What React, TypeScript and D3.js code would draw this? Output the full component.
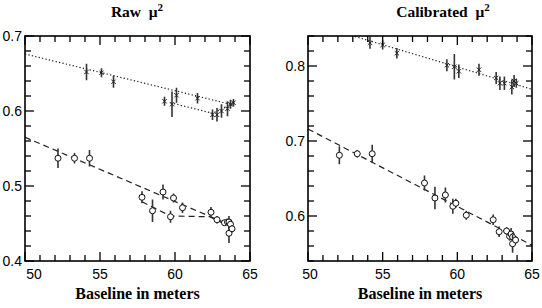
import * as d3 from "d3";

// upper series (crosses) and lower series (circles)
const rawUpperX = [54.1, 55.1, 55.9, 59.3, 59.8, 60.1, 61.5, 62.5, 62.8, 63.1, 63.5, 63.7, 63.9];
const rawUpperY = [0.652, 0.651, 0.639, 0.613, 0.609, 0.621, 0.617, 0.595, 0.595, 0.6, 0.603, 0.609, 0.611];
const rawUpperErr = [0.011, 0.006, 0.008, 0.006, 0.017, 0.01, 0.007, 0.007, 0.009, 0.009, 0.01, 0.006, 0.005];

const rawLowerX = [52.2, 53.3, 54.3, 57.8, 58.5, 59.2, 59.7, 59.9, 60.5, 62.4, 62.8, 63.3, 63.5, 63.6, 63.6, 63.7, 63.8];
const rawLowerY = [0.537, 0.537, 0.537, 0.485, 0.467, 0.492, 0.459, 0.484, 0.471, 0.465, 0.455, 0.451, 0.452, 0.452, 0.437, 0.449, 0.443];
const rawLowerErr = [0.013, 0.007, 0.011, 0.008, 0.015, 0.01, 0.008, 0.006, 0.007, 0.007, 0.005, 0.004, 0.004, 0.008, 0.013, 0.005, 0.005];

const calUpperX = [54.15, 55.0, 55.95, 59.3, 59.8, 60.1, 61.45, 62.6, 62.85, 63.15, 63.65, 63.8, 63.95];
const calUpperY = [0.831, 0.828, 0.817, 0.801, 0.799, 0.793, 0.795, 0.784, 0.777, 0.777, 0.772, 0.78, 0.777];
const calUpperErr = [0.008, 0.006, 0.007, 0.008, 0.017, 0.009, 0.008, 0.008, 0.009, 0.009, 0.01, 0.008, 0.006];

const calLowerX = [52.1, 53.3, 54.3, 57.8, 58.5, 59.2, 59.7, 59.9, 60.6, 62.4, 62.8, 63.3, 63.5, 63.6, 63.7, 63.7, 63.9];
const calLowerY = [0.681, 0.683, 0.683, 0.644, 0.624, 0.628, 0.613, 0.617, 0.601, 0.595, 0.579, 0.58, 0.573, 0.576, 0.572, 0.563, 0.568];
const calLowerErr = [0.012, 0.005, 0.012, 0.01, 0.015, 0.01, 0.01, 0.006, 0.006, 0.007, 0.007, 0.005, 0.006, 0.008, 0.006, 0.012, 0.005];

// fit lines
const rawDotAX = [50, 63.9];
const rawDotAY = [0.676, 0.608];
const rawDotBX = [59.7, 62.5, 63.9];
const rawDotBY = [0.611, 0.597, 0.61];
const rawDashAX = [50, 63.9];
const rawDashAY = [0.565, 0.446];
const rawDashBX = [57.8, 59.7, 62.3, 63.9];
const rawDashBY = [0.479, 0.46, 0.459, 0.444];
const calDotX = [50, 65];
const calDotY = [0.858, 0.769];
const calDashX = [50, 65];
const calDashY = [0.716, 0.561];

const xTicks = [50, 55, 60, 65];
const rawYTicks = [0.4, 0.5, 0.6, 0.7];
const calYTicks = [0.6, 0.7, 0.8];

const zip = (xs: number[], ys: number[], es?: number[]) =>
  xs.map((x, i) => ({ x, y: ys[i], e: es ? es[i] : 0 }));

type Line = { xs: number[]; ys: number[]; dash: string };

function Panel(props: {
  id: string;
  left: number;
  right: number;
  title: string;
  titleX: number;
  yDomain: [number, number];
  yTicks: number[];
  crosses: { x: number; y: number; e: number }[];
  circles: { x: number; y: number; e: number }[];
  lines: Line[];
  firstXLabelShift: number;
}) {
  const top = 36;
  const bottom = 261;
  const x = d3.scaleLinear().domain([50, 65]).range([props.left, props.right]);
  const y = d3.scaleLinear().domain(props.yDomain).range([bottom, top]);
  const line = d3
    .line<[number, number]>()
    .x((d) => x(d[0]))
    .y((d) => y(d[1]));

  const minorX = d3.range(50, 65.001, 1);
  const minorY = d3.range(Math.ceil(props.yDomain[0] * 50 - 1e-6), props.yDomain[1] * 50 + 1e-6, 1).map((v) => v / 50);
  const isMajorX = (v: number) => Math.abs(v / 5 - Math.round(v / 5)) < 1e-6;
  const isMajorY = (v: number) => Math.abs(v * 10 - Math.round(v * 10)) < 1e-6;

  return (
    <g>
      <defs>
        <clipPath id={props.id}>
          <rect x={props.left} y={top} width={props.right - props.left} height={bottom - top} />
        </clipPath>
      </defs>
      <text
        x={props.titleX}
        y={17}
        textAnchor="middle"
        fontFamily="Liberation Serif, serif"
        fontWeight="bold"
        fontSize={15.5}
      >
        {props.title}
        <tspan>{"\u00a0\u00a0\u03bc"}</tspan>
        <tspan fontSize={11} dy={-6}>2</tspan>
      </text>
      <g clipPath={`url(#${props.id})`}>
        {props.lines.map((l, i) => (
          <path
            key={i}
            d={line(l.xs.map((v, j) => [v, l.ys[j]]) as [number, number][]) || ""}
            fill="none"
            stroke="#222"
            strokeWidth={1.2}
            strokeDasharray={l.dash}
          />
        ))}
        {props.crosses.map((p, i) => (
          <g key={"c" + i}>
            <line x1={x(p.x)} x2={x(p.x)} y1={y(p.y - p.e)} y2={y(p.y + p.e)} stroke="#333" strokeWidth={1.6} />
            <path
              d={`M${x(p.x) - 2.2},${y(p.y) - 2.2}L${x(p.x) + 2.2},${y(p.y) + 2.2}M${x(p.x) - 2.2},${y(p.y) + 2.2}L${x(p.x) + 2.2},${y(p.y) - 2.2}`}
              stroke="#222"
              strokeWidth={1}
            />
          </g>
        ))}
        {props.circles.map((p, i) => (
          <g key={"o" + i}>
            <line x1={x(p.x)} x2={x(p.x)} y1={y(p.y - p.e)} y2={y(p.y + p.e)} stroke="#333" strokeWidth={1.6} />
            <circle cx={x(p.x)} cy={y(p.y)} r={3} fill="#fff" stroke="#111" strokeWidth={1} />
          </g>
        ))}
      </g>
      {minorX.map((v) => {
        const len = isMajorX(v) ? 9 : 6;
        return (
          <g key={"tx" + v}>
            <line x1={x(v)} x2={x(v)} y1={bottom} y2={bottom - len} stroke="#000" strokeWidth={1.3} />
            <line x1={x(v)} x2={x(v)} y1={top} y2={top + len} stroke="#000" strokeWidth={1.3} />
          </g>
        );
      })}
      {minorY.map((v) => {
        const len = isMajorY(v) ? 9 : 6;
        return (
          <g key={"ty" + v}>
            <line x1={props.left} x2={props.left + len} y1={y(v)} y2={y(v)} stroke="#000" strokeWidth={1.3} />
            <line x1={props.right} x2={props.right - len} y1={y(v)} y2={y(v)} stroke="#000" strokeWidth={1.3} />
          </g>
        );
      })}
      <rect
        x={props.left}
        y={top}
        width={props.right - props.left}
        height={bottom - top}
        fill="none"
        stroke="#000"
        strokeWidth={1.6}
      />
      {xTicks.map((v, i) => (
        <text
          key={"xl" + v}
          x={x(v) + (i === 0 ? props.firstXLabelShift : 0)}
          y={279}
          textAnchor="middle"
          fontFamily="Liberation Sans, Arial, sans-serif"
          fontSize={14}
        >
          {v}
        </text>
      ))}
      {props.yTicks.map((v) => (
        <text
          key={"yl" + v}
          x={props.left - 3}
          y={y(v) + 5}
          textAnchor="end"
          fontFamily="Liberation Sans, Arial, sans-serif"
          fontSize={14}
        >
          {v.toFixed(1)}
        </text>
      ))}
      <text
        x={(props.left + props.right) / 2}
        y={299}
        textAnchor="middle"
        fontFamily="Liberation Serif, serif"
        fontWeight="bold"
        fontSize={16}
      >
        Baseline in meters
      </text>
    </g>
  );
}

export default function App() {
  return (
    <svg
      width={542}
      height={308}
      style={{ position: "absolute", left: 0, top: 0, background: "#fff" }}
    >
      <Panel
        id="clipRaw"
        left={25}
        right={250}
        title="Raw"
        titleX={137}
        yDomain={[0.4, 0.7]}
        yTicks={rawYTicks}
        crosses={zip(rawUpperX, rawUpperY, rawUpperErr)}
        circles={zip(rawLowerX, rawLowerY, rawLowerErr)}
        lines={[
          { xs: rawDotAX, ys: rawDotAY, dash: "1.3,2.2" },
          { xs: rawDotBX, ys: rawDotBY, dash: "1.3,2.2" },
          { xs: rawDashAX, ys: rawDashAY, dash: "6,4" },
          { xs: rawDashBX, ys: rawDashBY, dash: "6,4" },
        ]}
        firstXLabelShift={9}
      />
      <Panel
        id="clipCal"
        left={308}
        right={532}
        title="Calibrated"
        titleX={443}
        yDomain={[0.54, 0.84]}
        yTicks={calYTicks}
        crosses={zip(calUpperX, calUpperY, calUpperErr)}
        circles={zip(calLowerX, calLowerY, calLowerErr)}
        lines={[
          { xs: calDotX, ys: calDotY, dash: "1.3,2.2" },
          { xs: calDashX, ys: calDashY, dash: "6,4" },
        ]}
        firstXLabelShift={2}
      />
    </svg>
  );
}
